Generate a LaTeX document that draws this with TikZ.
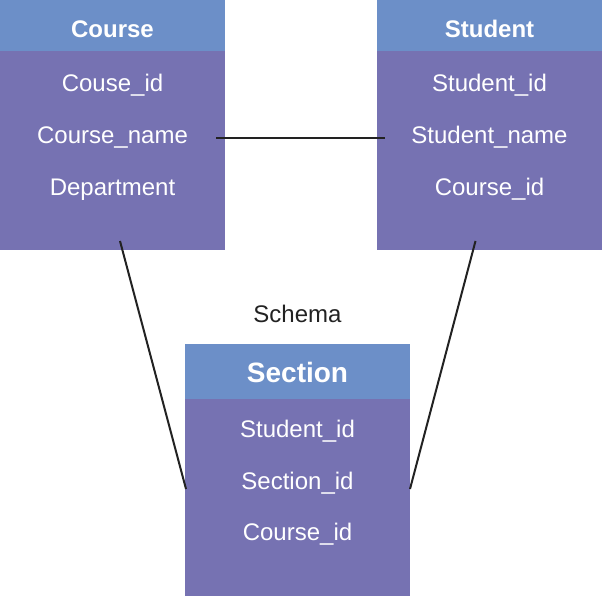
\documentclass[tikz,border=0pt]{standalone}
\usepackage{fontspec}
\setmainfont{Liberation Sans}
\definecolor{hdr}{RGB}{108,143,200}
\definecolor{bdy}{RGB}{118,114,178}
\definecolor{ink}{RGB}{34,34,34}
\begin{document}
\begin{tikzpicture}[x=1pt,y=-1pt,
  hdrbox/.style={fill=hdr,draw=none},
  bdybox/.style={fill=bdy,draw=none},
  title/.style={text=white,font=\fontsize{24}{28}\selectfont\bfseries,anchor=base,inner sep=0pt},
  bigtitle/.style={text=white,font=\fontsize{28}{32}\selectfont\bfseries,anchor=base,inner sep=0pt},
  field/.style={text=white,font=\fontsize{24}{28}\selectfont,anchor=base,inner sep=0pt},
  link/.style={draw=ink,line width=2pt}]
\useasboundingbox (0,0) rectangle (602,596);
% Course
\fill[bdybox] (0,51) rectangle (225,250);
\fill[hdrbox] (0,0) rectangle (225,51);
\node[title] (ct) at (112.5,37.5) {Course};
\node[field] (c1) at (112.5,91.5) {Couse\_id};
\node[field] (c2) at (112.5,144) {Course\_name};
\node[field] (c3) at (112.5,196) {Department};
% Student
\fill[bdybox] (377,51) rectangle (602,250);
\fill[hdrbox] (377,0) rectangle (602,51);
\node[title] (st) at (489.5,37.5) {Student};
\node[field] (s1) at (489.5,91.5) {Student\_id};
\node[field] (s2) at (489.5,144) {Student\_name};
\node[field] (s3) at (489.5,196) {Course\_id};
% Section
\node[text=ink,font=\fontsize{24}{28}\selectfont,anchor=base,inner sep=0pt] (schema) at (297.5,322) {Schema};
\fill[bdybox] (185,399) rectangle (410,596);
\fill[hdrbox] (185,344) rectangle (410,399);
\node[bigtitle] (sect) at (297.5,382) {Section};
\node[field] (x1) at (297.5,437) {Student\_id};
\node[field] (x2) at (297.5,489) {Section\_id};
\node[field] (x3) at (297.5,540.5) {Course\_id};
% connector ends
\coordinate (cR) at (216,138);
\coordinate (sL) at (385,138);
\coordinate (cB) at (120,241);
\coordinate (sB) at (475.5,241);
\coordinate (xL) at (186,489);
\coordinate (xR) at (410,489);
\draw[link] (cR) -- (sL);
\draw[link] (cB) -- (xL);
\draw[link] (sB) -- (xR);
\end{tikzpicture}
\end{document}
